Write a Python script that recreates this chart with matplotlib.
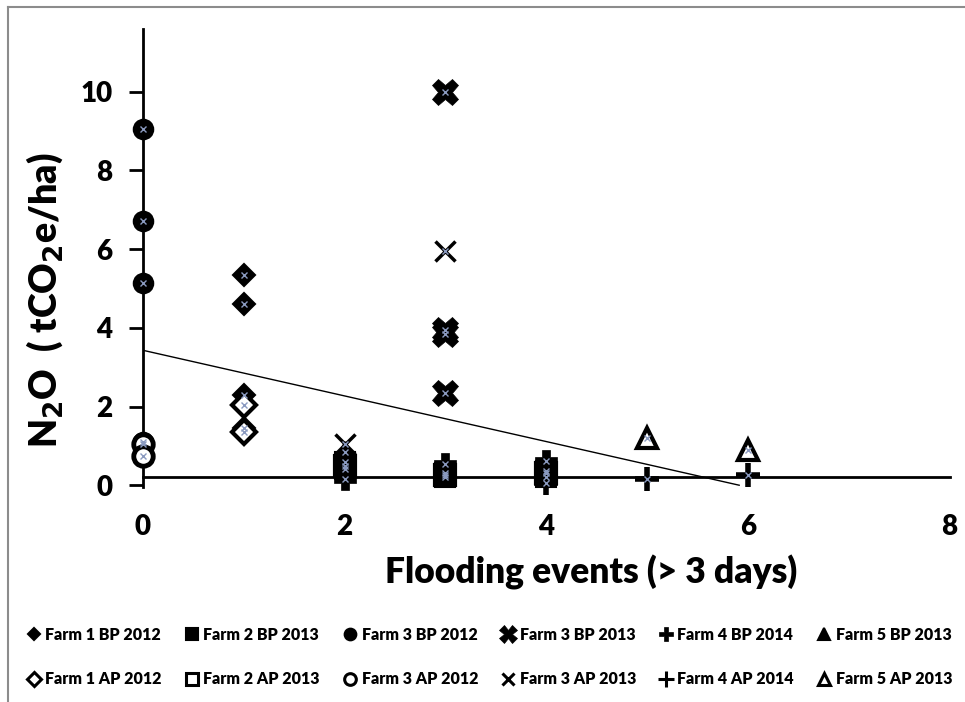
import matplotlib.pyplot as plt
from matplotlib.lines import Line2D

plt.rcParams["font.family"] = ["Lato", "DejaVu Sans"]
plt.rcParams["font.weight"] = "bold"
plt.rcParams["mathtext.default"] = "bf"

# series values (flooding events, N2O tCO2e/ha)
f1_bp_x = [1, 1, 1, 1]
f1_bp_y = [5.35, 4.6, 2.3, 1.45]
f1_ap_x = [1, 1]
f1_ap_y = [2.05, 1.35]
f2_bp_x = [2, 2, 3, 3, 4, 4]
f2_bp_y = [0.6, 0.4, 0.3, 0.2, 0.35, 0.2]
f2_ap_x = [2, 3, 4]
f2_ap_y = [0.5, 0.25, 0.3]
f3_bp12_x = [0, 0, 0, 0]
f3_bp12_y = [9.05, 6.72, 5.15, 1.1]
f3_ap12_x = [0, 0]
f3_ap12_y = [1.05, 0.75]
f3_bp13_x = [3, 3, 3, 3]
f3_bp13_y = [10.0, 3.95, 3.85, 2.35]
f3_ap13_x = [3, 2]
f3_ap13_y = [5.95, 1.05]
f4_bp_x = [2, 3, 4]
f4_bp_y = [0.15, 0.55, 0.62]
f4_ap_x = [5, 6, 4]
f4_ap_y = [0.15, 0.25, 0.05]
f5_bp_x = [2]
f5_bp_y = [0.85]
f5_ap_x = [5, 6]
f5_ap_y = [1.2, 0.9]

# linear trend line as drawn in the chart
trend_intercept = 3.43
trend_slope = -0.58

x_ticks = [0, 2, 4, 6, 8]
y_ticks = [0, 2, 4, 6, 8, 10]

fig = plt.figure(figsize=(9.65, 7.02), dpi=100)
ax = fig.add_axes([0.148, 0.306, 0.836, 0.653])

K = "black"
series = [
    # label, x, y, marker, size, filled, edge width, zorder
    ("Farm 1 BP 2012", f1_bp_x, f1_bp_y, "D", 11, True, 1.5, 3),
    ("Farm 1 AP 2012", f1_ap_x, f1_ap_y, "D", 12, False, 3.0, 3),
    ("Farm 2 BP 2013", f2_bp_x, f2_bp_y, "s", 15, True, 1.5, 3.2),
    ("Farm 2 AP 2013", f2_ap_x, f2_ap_y, "s", 15, False, 3.0, 3.1),
    ("Farm 3 BP 2012", f3_bp12_x, f3_bp12_y, "o", 14, True, 1.5, 3),
    ("Farm 3 AP 2012", f3_ap12_x, f3_ap12_y, "o", 14, False, 3.5, 3),
    ("Farm 3 BP 2013", f3_bp13_x, f3_bp13_y, "X", 19, True, 0.5, 3),
    ("Farm 3 AP 2013", f3_ap13_x, f3_ap13_y, "x", 14, True, 2.5, 3),
    ("Farm 4 BP 2014", f4_bp_x, f4_bp_y, "P", 16, True, 0.5, 3),
    ("Farm 4 AP 2014", f4_ap_x, f4_ap_y, "+", 17, True, 4.0, 3),
    ("Farm 5 BP 2013", f5_bp_x, f5_bp_y, "^", 14, True, 1.5, 3),
    ("Farm 5 AP 2013", f5_ap_x, f5_ap_y, "^", 15, False, 3.0, 3),
]

handles = []
for label, xs, ys, mk, ms, filled, mew, z in series:
    ax.plot(xs, ys, linestyle="none", marker=mk, markersize=ms,
            markerfacecolor=K if filled else "white", markeredgecolor=K,
            markeredgewidth=mew, zorder=z, clip_on=False)
    ax.plot(xs, ys, linestyle="none", marker="x", markersize=4,
            markeredgecolor="#8a9ac0", markeredgewidth=1.0, zorder=4,
            clip_on=False)
    lms = ms * 0.6 if mk not in ("X", "+") else ms * 0.65
    handles.append(Line2D([], [], linestyle="none", marker=mk, markersize=lms,
                          markerfacecolor=K if filled else "white",
                          markeredgecolor=K, markeredgewidth=min(mew, 2.2),
                          label=label))

# trend line from x=0 to where it reaches zero
x_end = -trend_intercept / trend_slope
ax.plot([0, x_end], [trend_intercept, trend_intercept + trend_slope * x_end],
        color=K, linewidth=1.0, zorder=2)

# horizontal axis crosses a little above zero
ax.plot([0, 8], [0.2, 0.2], color=K, linewidth=2.0, zorder=2, clip_on=False)

ax.set_xlim(0, 8)
ax.set_ylim(-0.05, 11.6)
ax.set_xticks(x_ticks)
ax.set_yticks(y_ticks)
for s in ("top", "right", "bottom"):
    ax.spines[s].set_visible(False)
ax.spines["left"].set_linewidth(2.0)
ax.tick_params(axis="x", length=0, pad=19, labelsize=20)
ax.tick_params(axis="y", length=10, width=2, direction="out", pad=12, labelsize=20)
for t in ax.get_xticklabels() + ax.get_yticklabels():
    t.set_fontweight("heavy")

fig.text(591 / 965, 1 - 572 / 702, "Flooding events (> 3 days)", ha="center",
         va="center", fontsize=25.5, fontweight="heavy")
fig.text(45 / 965, 1 - 300 / 702, r"N$_2$O  ( tCO$_2$e/ha)", ha="center",
         va="center", rotation=90, fontsize=27, fontweight="heavy")

# legend: BP series on first row, AP series on second
fig.legend(handles=handles, loc="center",
           bbox_to_anchor=(490 / 965, 1 - 657 / 702), ncol=6, frameon=False,
           prop={"weight": "heavy", "size": 11.5}, handlelength=0.8,
           handletextpad=0.3, columnspacing=1.5, labelspacing=1.8,
           borderpad=0)

# thin grey frame (left and top edges visible in the picture)
fig.add_artist(Line2D([8 / 965, 8 / 965], [0, 1 - 7 / 702], color="#8c8c8c",
                      linewidth=1.5, transform=fig.transFigure))
fig.add_artist(Line2D([8 / 965, 1], [1 - 7 / 702, 1 - 7 / 702], color="#8c8c8c",
                      linewidth=1.5, transform=fig.transFigure))

fig.savefig("out.png", dpi=100)
